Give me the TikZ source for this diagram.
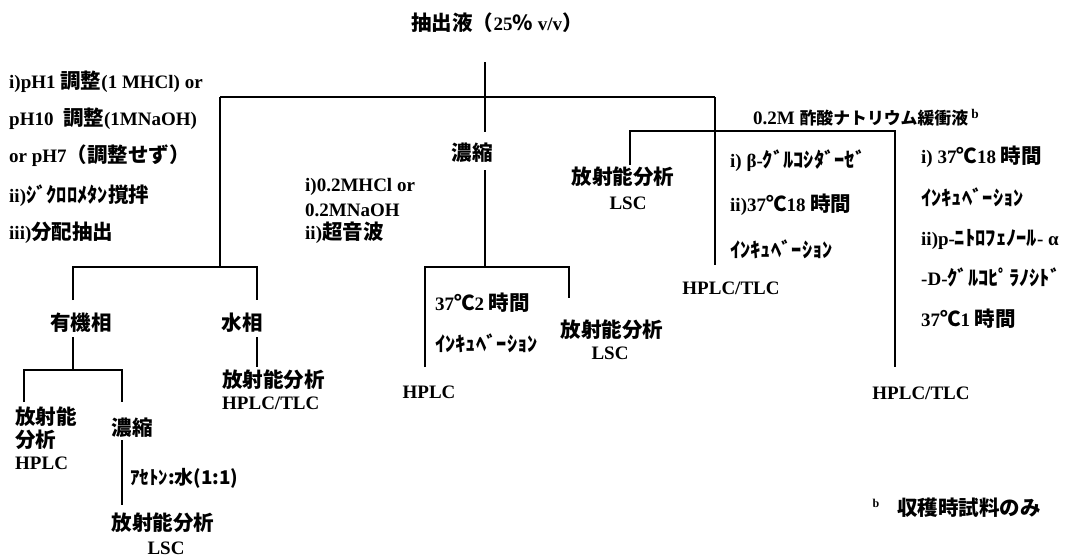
\documentclass[tikz,border=0pt]{standalone}
\usepackage{fontspec}
\setmainfont{Liberation Serif}
\newfontfamily\jp{Noto Sans CJK JP}[Scale=1.08]
\newcommand\J[1]{{\jp #1}}
\begin{document}
\begin{tikzpicture}[x=1pt,y=-1pt,
  every node/.style={inner sep=0pt,font=\fontsize{19}{22}\selectfont\bfseries},
  tw/.style={anchor=west},
  ln/.style={line width=2.3pt}]
\useasboundingbox (0,0) rectangle (1084,557);
% ---------- title and main split
\node (title) at (497,23) {\J{抽出液（}25\J{％} v/v\J{）}};
\coordinate (top) at (485,62);
\coordinate (jA) at (485,97);
\coordinate (hL) at (220,97);
\coordinate (hR) at (715,97);
\coordinate (mA) at (485,132);
\node (konc1) at (472,153) {\J{濃縮}};
\coordinate (mB) at (485,170);
\coordinate (mC) at (485,267);
\draw[ln] (top) -- (mA);
\draw[ln] (hL) -- (hR);
\draw[ln] (mB) -- (mC);
% ---------- left branch
\node[tw] (l1) at (9,82)  {i)pH1 \J{調整}(1 MHCl) or};
\node[tw] (l2) at (9,119) {pH10\ \ \J{調整}(1MNaOH)};
\node[tw] (l3) at (9,156) {or pH7\J{（調整せず）}};
\node[tw] (l4) at (9,196) {ii)\J{ｼﾞｸﾛﾛﾒﾀﾝ撹拌}};
\node[tw] (l5) at (9,233) {iii)\J{分配抽出}};
\coordinate (lC) at (220,267);
\coordinate (lL) at (73,267);
\coordinate (lR) at (257,267);
\coordinate (lLb) at (73,300);
\coordinate (lRb) at (257,300);
\draw[ln] (hL) -- (lC);
\draw[ln] (lLb) -- (lL) -- (lR) -- (lRb);
\node (org) at (81,323) {\J{有機相}};
\node (aq) at (242,323) {\J{水相}};
% organic phase
\coordinate (oA) at (73,337);
\coordinate (oB) at (73,370);
\coordinate (oL) at (24,370);
\coordinate (oR) at (122,370);
\coordinate (oLb) at (24,402);
\coordinate (oRb) at (122,402);
\draw[ln] (oA) -- (oB);
\draw[ln] (oLb) -- (oL) -- (oR) -- (oRb);
\node[tw] (o1) at (15,417) {\J{放射能}};
\node[tw] (o2) at (15,440) {\J{分析}};
\node[tw] (o3) at (15,463) {HPLC};
\node (konc2) at (132,428) {\J{濃縮}};
\coordinate (kA) at (122,440);
\coordinate (kB) at (122,505);
\draw[ln] (kA) -- (kB);
\node[tw] (ace) at (130,478) {\J{\fontsize{17.5}{20}\selectfont ｱｾﾄﾝ:水(1:1)}};
\node (ra1) at (163,523) {\J{放射能分析}};
\node (lsc1) at (166,548) {LSC};
% aqueous phase
\coordinate (aA) at (257,337);
\coordinate (aB) at (257,367);
\draw[ln] (aA) -- (aB);
\node[tw] (aq1) at (222,380) {\J{放射能分析}};
\node[tw] (aq2) at (222,403) {HPLC/TLC};
% ---------- middle branch
\node[tw] (m1) at (305,187) {i)0.2MHCl or};
\node[tw] (m2) at (305,210) {0.2MNaOH};
\node[tw] (m3) at (305,233) {ii)\J{超音波}};
\coordinate (mL) at (425,267);
\coordinate (mR) at (569,267);
\coordinate (mLb) at (425,367);
\coordinate (mRb) at (569,298);
\draw[ln] (mLb) -- (mL) -- (mR) -- (mRb);
\node[tw] (mi1) at (435,303) {37\J{℃}2 \J{時間}};
\node[tw] (mi2) at (435,343) {\J{ｲﾝｷｭﾍﾞｰｼｮﾝ}};
\node (mr1) at (612,330) {\J{放射能分析}};
\node (mr2) at (610,353) {LSC};
\node (mh) at (429,392) {HPLC};
% ---------- right branches
\coordinate (hRb) at (715,265);
\draw[ln] (hR) -- (hRb);
\node (rh1) at (731,288) {HPLC/TLC};
\node[tw] (buf) at (753,118) {0.2M \J{\fontsize{15.6}{18}\selectfont 酢酸ナトリウム緩衝液}\,\textsuperscript{b}};
\coordinate (rL) at (630,131);
\coordinate (rR) at (895,131);
\coordinate (rLb) at (630,165);
\coordinate (rRb) at (895,367);
\draw[ln] (rLb) -- (rL) -- (rR) -- (rRb);
\node (rr1) at (623,177) {\J{放射能分析}};
\node (rr2) at (628,203) {LSC};
\node[tw] (g1) at (730,161) {i) β-\J{ｸﾞﾙｺｼﾀﾞｰｾﾞ}};
\node[tw] (g2) at (730,205) {ii)37\J{℃}18 \J{時間}};
\node[tw] (g3) at (730,249) {\J{ｲﾝｷｭﾍﾞｰｼｮﾝ}};
\node[tw] (p1) at (921,157) {i) 37\J{℃}18 \J{時間}};
\node[tw] (p2) at (921,197) {\J{ｲﾝｷｭﾍﾞｰｼｮﾝ}};
\node[tw] (p3) at (921,239) {ii)p-\J{ﾆﾄﾛﾌｪﾉｰﾙ}- α};
\node[tw] (p4) at (921,277) {-D-\J{ｸﾞﾙｺﾋﾟﾗﾉｼﾄﾞ}};
\node[tw] (p5) at (921,319) {37\J{℃}1 \J{時間}};
\node (rh2) at (921,393) {HPLC/TLC};
\node (fnb) at (876,503) {\fontsize{12}{14}\selectfont b};
\node[tw] (fn) at (897,508) {\J{収穫時試料のみ}};
\end{tikzpicture}
\end{document}
